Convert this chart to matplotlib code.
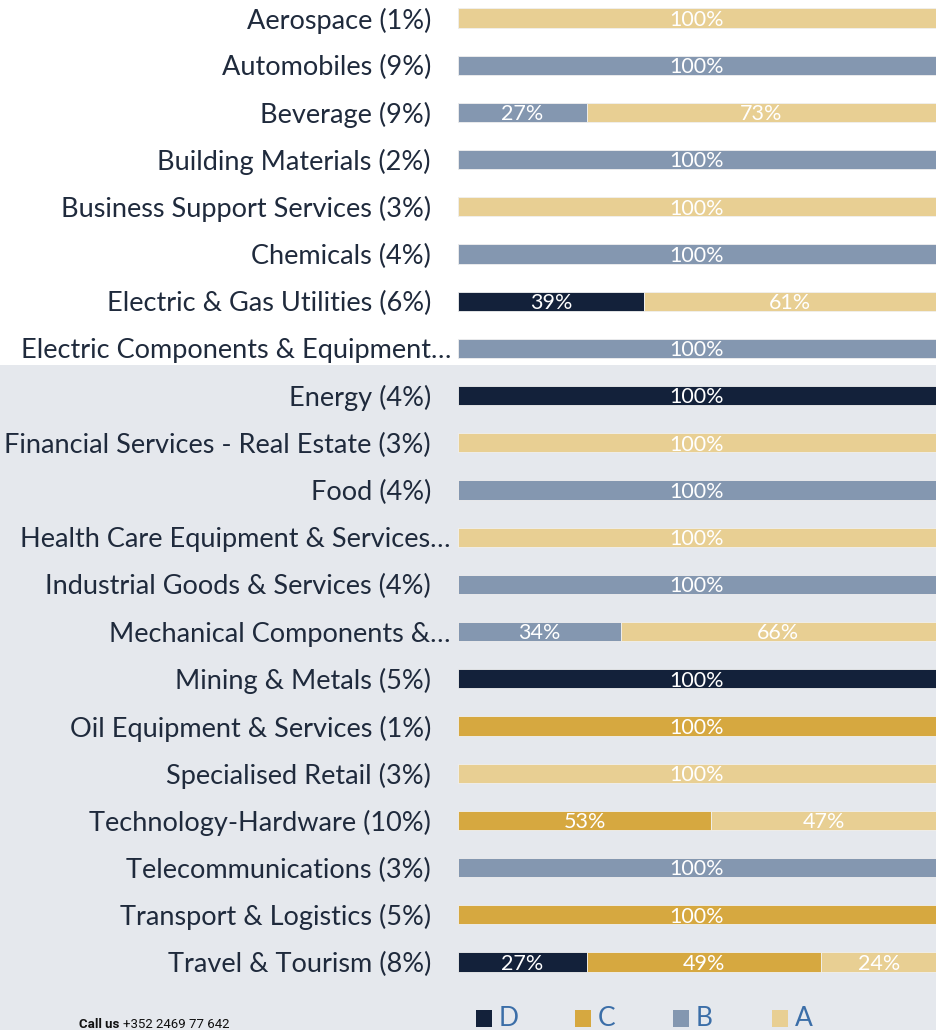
import matplotlib.pyplot as plt
from matplotlib.patches import Rectangle
from matplotlib.transforms import ScaledTranslation

# === Data ===
sectors = [
    'Aerospace (1%)', 'Automobiles (9%)', 'Beverage (9%)', 'Building Materials (2%)',
    'Business Support Services (3%)', 'Chemicals (4%)', 'Electric & Gas Utilities (6%)',
    'Electric Components & Equipment…', 'Energy (4%)', 'Financial Services - Real Estate (3%)',
    'Food (4%)', 'Health Care Equipment & Services…', 'Industrial Goods & Services (4%)',
    'Mechanical Components &…', 'Mining & Metals (5%)', 'Oil Equipment & Services (1%)',
    'Specialised Retail (3%)', 'Technology-Hardware (10%)', 'Telecommunications (3%)',
    'Transport & Logistics (5%)', 'Travel & Tourism (8%)',
]
rating_D = [0, 0, 0, 0, 0, 0, 39, 0, 100, 0, 0, 0, 0, 0, 100, 0, 0, 0, 0, 0, 27]
rating_C = [0, 0, 0, 0, 0, 0, 0, 0, 0, 0, 0, 0, 0, 0, 0, 100, 0, 53, 0, 100, 49]
rating_B = [0, 100, 27, 100, 0, 100, 0, 100, 0, 0, 100, 0, 100, 34, 0, 0, 0, 0, 100, 0, 0]
rating_A = [100, 0, 73, 0, 100, 0, 61, 0, 0, 100, 0, 100, 0, 66, 0, 0, 100, 47, 0, 0, 24]

series = [('D', rating_D, '#13213a'), ('C', rating_C, '#d6a840'),
          ('B', rating_B, '#8497b0'), ('A', rating_A, '#e8cf93')]

FONT = 'Lato'

# === Figure ===
fig = plt.figure(figsize=(9.36, 10.30), dpi=100)
fig.patch.set_facecolor('white')
fig.patches.append(Rectangle((0, 0), 1, 1 - 365 / 1030, transform=fig.transFigure,
                             facecolor='#e5e8ed', edgecolor='none', zorder=-5))

ax = fig.add_axes([458 / 936, 1 - 985.6 / 1030, 478 / 936, 991.2 / 1030])
ax.set_facecolor('none')

y = list(range(len(sectors)))
left = [0] * len(sectors)
for name, vals, color in series:
    ax.barh(y, vals, left=left, height=0.41, color=color, edgecolor='#f0f0f0', linewidth=0.6)
    for i, v in enumerate(vals):
        if v > 0:
            ax.text(left[i] + v / 2, i + 0.04, f'{v}%', ha='center', va='center',
                    color='white', fontsize=15.5, family=FONT)
    left = [l + v for l, v in zip(left, vals)]

ax.set_xlim(0, 100)
ax.set_ylim(len(sectors) - 0.5, -0.5)
ax.set_yticks(y)
ax.set_yticklabels(sectors, fontsize=19.5, color='#1f2a3c', family=FONT)
ax.tick_params(axis='y', length=0, pad=19.5)
ax.set_xticks([])
for s in ax.spines.values():
    s.set_visible(False)
# truncated labels sit closer to the bars
for lbl in ax.get_yticklabels():
    if lbl.get_text().endswith('…'):
        lbl.set_transform(lbl.get_transform() + ScaledTranslation(0.20, 0, fig.dpi_scale_trans))

# legend drawn by hand
leg_x = [476, 575, 673, 772]
for (name, _, color), x0 in zip(series, leg_x):
    fig.patches.append(Rectangle((x0 / 936, 1 - 1027 / 1030), 16 / 936, 17 / 1030,
                                 transform=fig.transFigure, facecolor=color, edgecolor='none'))
    fig.text((x0 + 23) / 936, 1 - 1018.5 / 1030, name, fontsize=19, color='#3b6ea8',
             va='center', ha='left', family=FONT)

fig.text(79 / 936, -0.001, 'Call us', fontsize=9.5, fontweight='bold', color='#111111',
         va='bottom', family='Roboto')
fig.text(123 / 936, -0.001, '+352 2469 77 642', fontsize=9.5, color='#111111',
         va='bottom', family='Roboto')

fig.savefig('out.png', dpi=100)
